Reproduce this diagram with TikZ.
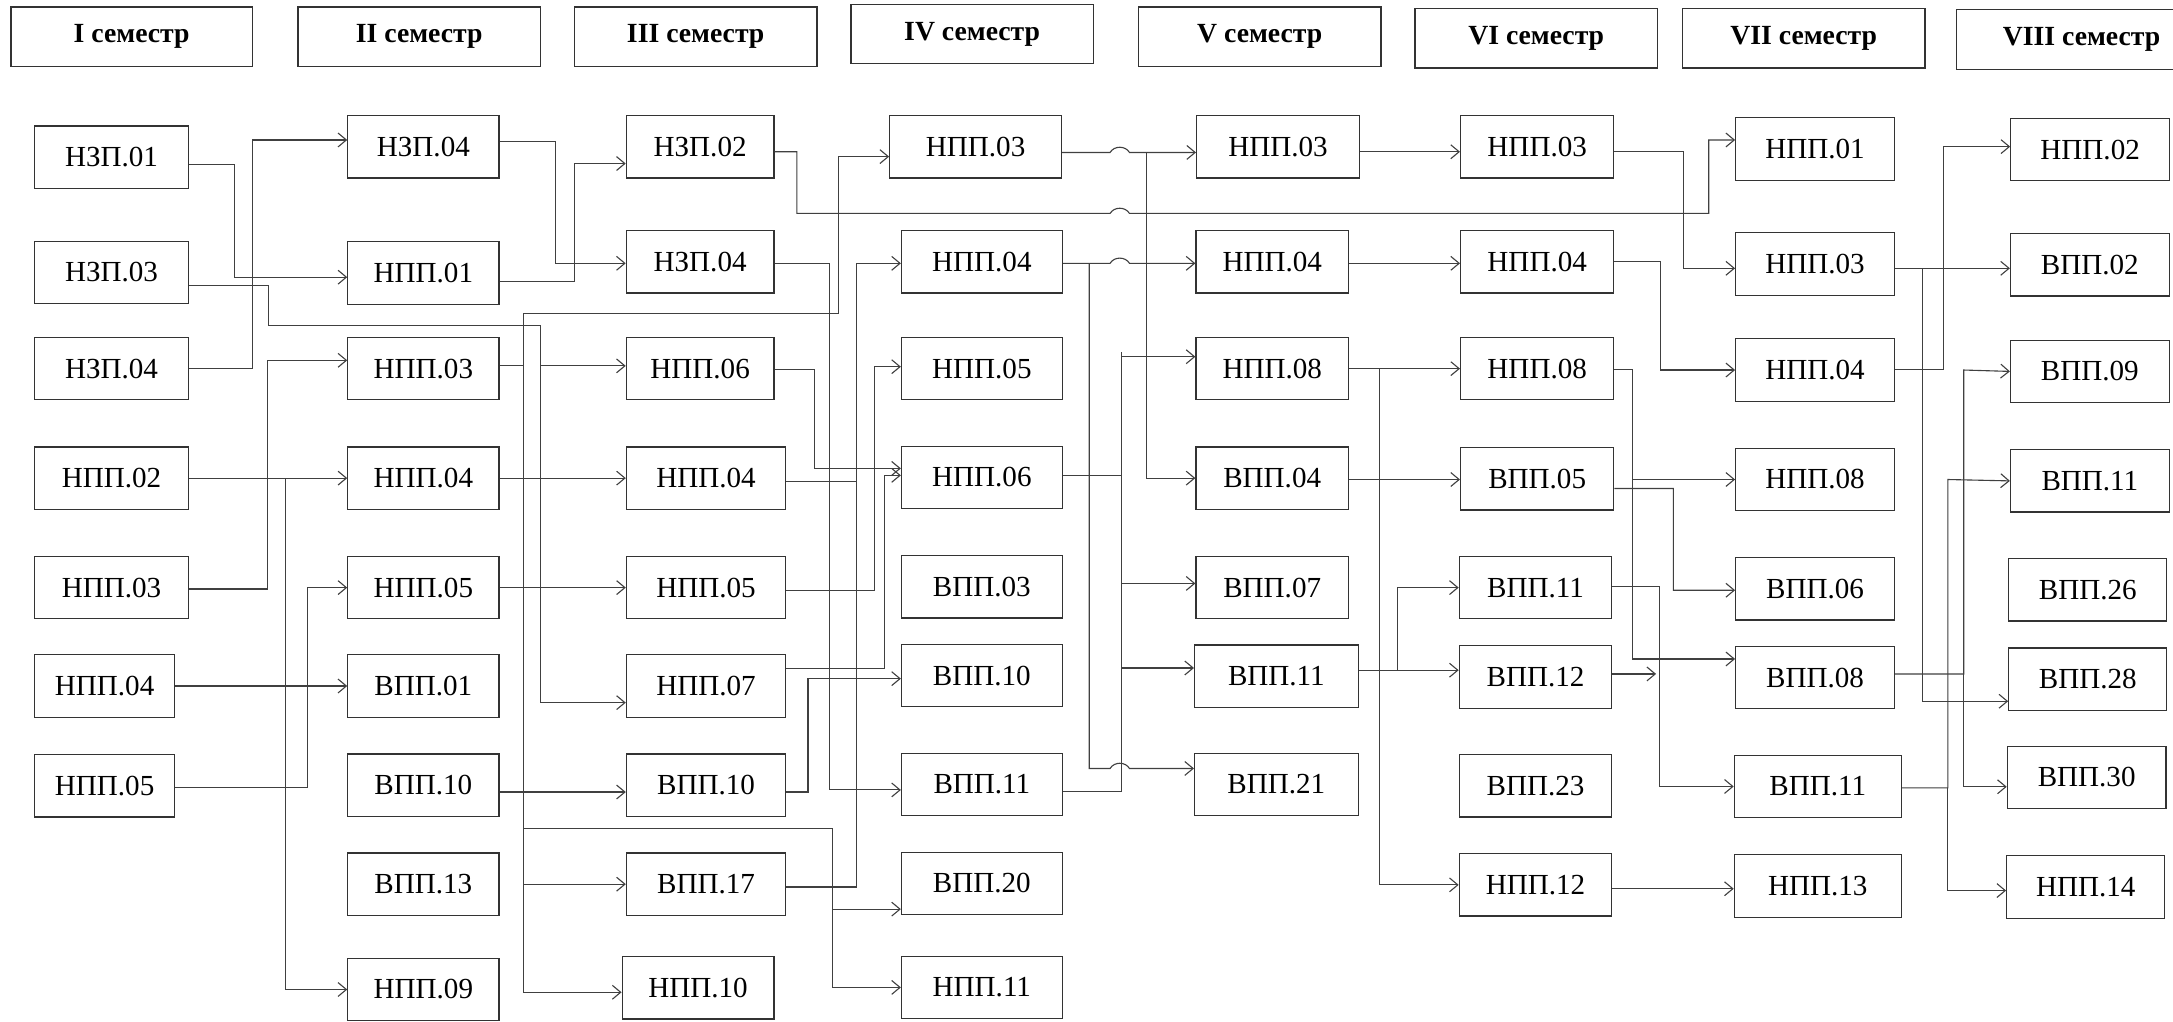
\documentclass[tikz,border=0pt]{standalone}
\usepackage{fontspec}
\setmainfont{Liberation Serif}
\usetikzlibrary{arrows.meta}
\begin{document}
\begin{tikzpicture}[x=1pt,y=-1pt,
  box/.style={draw=black!80, line width=0.9pt, minimum height=45pt, inner sep=0pt, font=\fontsize{21}{24}\selectfont},
  hdr/.style={draw=black!80, line width=0.9pt, minimum height=43pt, minimum width=175pt, inner sep=0pt, font=\bfseries\fontsize{20}{24}\selectfont},
  ln/.style={draw=black!75, line width=0.8pt},
  arr/.style={ln, -{Straight Barb[length=6pt,width=10pt]}},
  bump/.style args={#1/#2}{insert path={-- (#1-7,#2) .. controls (#1-4,#2-5) and (#1+4,#2-5) .. (#1+7,#2)}}
]
\useasboundingbox (0,0) rectangle (1568,737);
\fill[white] (0,0) rectangle (1568,737);

% headers
\node[hdr, minimum width=174pt] (H1) at (95,26.5) {I семестр};
\node[hdr] (H2) at (302.5,26.5) {II семестр};
\node[hdr] (H3) at (502,26.5) {III семестр};
\node[hdr] (H4) at (701.5,24.5) {IV семестр};
\node[hdr] (H5) at (909,26.5) {V семестр};
\node[hdr] (H6) at (1108.5,27.5) {VI семестр};
\node[hdr] (H7) at (1301.5,27.5) {VII семестр};
\node[hdr, minimum width=180pt] (H8) at (1502,28.5) {VIII семестр};

% column I
\node[box, minimum width=111pt] (a1) at (80.5,113.5) {НЗП.01};
\node[box, minimum width=111pt] (a2) at (80.5,196.5) {НЗП.03};
\node[box, minimum width=111pt] (a3) at (80.5,266) {НЗП.04};
\node[box, minimum width=111pt] (a4) at (80.5,345) {НПП.02};
\node[box, minimum width=111pt] (a5) at (80.5,424) {НПП.03};
\node[box, minimum width=101pt] (a6) at (75.5,495) {НПП.04};
\node[box, minimum width=101pt] (a7) at (75.5,567) {НПП.05};

% column II
\node[box, minimum width=109pt] (b1) at (305.5,106) {НЗП.04};
\node[box, minimum width=109pt] (b2) at (305.5,197) {НПП.01};
\node[box, minimum width=109pt] (b3) at (305.5,266) {НПП.03};
\node[box, minimum width=109pt] (b4) at (305.5,345) {НПП.04};
\node[box, minimum width=109pt] (b5) at (305.5,424) {НПП.05};
\node[box, minimum width=109pt] (b6) at (305.5,495) {ВПП.01};
\node[box, minimum width=109pt] (b7) at (305.5,566.5) {ВПП.10};
\node[box, minimum width=109pt] (b8) at (305.5,638) {ВПП.13};
\node[box, minimum width=109pt] (b9) at (305.5,714) {НПП.09};

% column III
\node[box, minimum width=106.5pt] (c1) at (505.2,106) {НЗП.02};
\node[box, minimum width=106.5pt] (c2) at (505.2,189) {НЗП.04};
\node[box, minimum width=106.5pt] (c3) at (505.2,266) {НПП.06};
\node[box, minimum width=115pt] (c4) at (509.5,345) {НПП.04};
\node[box, minimum width=115pt] (c5) at (509.5,424) {НПП.05};
\node[box, minimum width=115pt] (c6) at (509.5,495) {НПП.07};
\node[box, minimum width=115pt] (c7) at (509.5,566.5) {ВПП.10};
\node[box, minimum width=115pt] (c8) at (509.5,638) {ВПП.17};
\node[box, minimum width=109.5pt] (c9) at (503.7,712.7) {НПП.10};

% column IV
\node[box, minimum width=124pt] (d1) at (704,106) {НПП.03};
\node[box, minimum width=116pt] (d2) at (708.5,189) {НПП.04};
\node[box, minimum width=116pt] (d3) at (708.5,266) {НПП.05};
\node[box, minimum width=116pt] (d4) at (708.5,344.5) {НПП.06};
\node[box, minimum width=116pt] (d5) at (708.5,423.5) {ВПП.03};
\node[box, minimum width=116pt] (d6) at (708.5,487.5) {ВПП.10};
\node[box, minimum width=116pt] (d7) at (708.5,566) {ВПП.11};
\node[box, minimum width=116pt] (d8) at (708.5,637.5) {ВПП.20};
\node[box, minimum width=116pt] (d9) at (708.5,712.5) {НПП.11};

% column V
\node[box, minimum width=117.5pt] (e1) at (922.2,106) {НПП.03};
\node[box, minimum width=110pt] (e2) at (918,189) {НПП.04};
\node[box, minimum width=110pt] (e3) at (918,266) {НПП.08};
\node[box, minimum width=110pt] (e4) at (918,345) {ВПП.04};
\node[box, minimum width=110pt] (e5) at (918,424) {ВПП.07};
\node[box, minimum width=118pt] (e6) at (921,488) {ВПП.11};
\node[box, minimum width=118pt] (e7) at (921,566) {ВПП.21};

% column VI
\node[box, minimum width=110.5pt] (f1) at (1109.2,106) {НПП.03};
\node[box, minimum width=110.5pt] (f2) at (1109.2,189) {НПП.04};
\node[box, minimum width=110.5pt] (f3) at (1109.2,266) {НПП.08};
\node[box, minimum width=110.5pt] (f4) at (1109.2,345.5) {ВПП.05};
\node[box, minimum width=110pt] (f5) at (1108,424) {ВПП.11};
\node[box, minimum width=110pt] (f6) at (1108,488.5) {ВПП.12};
\node[box, minimum width=110pt] (f7) at (1108,567) {ВПП.23};
\node[box, minimum width=110pt] (f8) at (1108,638.5) {НПП.12};

% column VII
\node[box, minimum width=114.5pt] (g1) at (1309.7,107.5) {НПП.01};
\node[box, minimum width=114.5pt] (g2) at (1309.7,190.5) {НПП.03};
\node[box, minimum width=114.5pt] (g3) at (1309.7,267) {НПП.04};
\node[box, minimum width=114.5pt] (g4) at (1309.7,346) {НПП.08};
\node[box, minimum width=114.5pt] (g5) at (1309.7,424.8) {ВПП.06};
\node[box, minimum width=114.5pt] (g6) at (1309.7,489) {ВПП.08};
\node[box, minimum width=120.5pt] (g7) at (1311.7,567.5) {ВПП.11};
\node[box, minimum width=120.5pt] (g8) at (1311.7,639.3) {НПП.13};

% column VIII
\node[box, minimum width=114.5pt] (h1) at (1508.2,108) {НПП.02};
\node[box, minimum width=114.5pt] (h2) at (1508,191) {ВПП.02};
\node[box, minimum width=114.5pt] (h3) at (1508,268) {ВПП.09};
\node[box, minimum width=114.5pt] (h4) at (1508,347) {ВПП.11};
\node[box, minimum width=114pt] (h5) at (1506.5,425.6) {ВПП.26};
\node[box, minimum width=114pt] (h6) at (1506.5,490) {ВПП.28};
\node[box, minimum width=114.5pt] (h7) at (1505.7,561) {ВПП.30};
\node[box, minimum width=114pt] (h8) at (1505,640) {НПП.14};

% junction coordinates
\coordinate (j390) at (390,264);
\coordinate (j206) at (206,345);
\coordinate (j378a) at (378,598);
\coordinate (j378b) at (378,638);
\coordinate (j601) at (601,656);
\coordinate (j827) at (827.5,110);
\coordinate (j786) at (786,190);
\coordinate (h809a) at (809,257.4);
\coordinate (h809b) at (809,421);
\coordinate (h809c) at (809,482);
\coordinate (j995) at (995.4,266);
\coordinate (j1008) at (1008.7,483.6);
\coordinate (j1178) at (1177.7,346);
\coordinate (cf6) at (1195,486.3);
\coordinate (j1387) at (1387.5,193.6);
\coordinate (j1417) at (1417,486.3);
\coordinate (j1405) at (1405.5,568.5);

% I -> II
\draw[arr] ([yshift=-5.5]a1.east) -| (169,200) -- ([yshift=-3]b2.west);
\draw[arr] (a3.east) -| (182,101) -- ([yshift=5]b1.west);
\draw[arr] ([yshift=-9.5]a2.east) -| (194,235) -| (j390) -- ([yshift=2]c3.west);
\draw[arr] (j390) |- ([yshift=-12]c6.west);
\draw[arr] (a4.east) -- (b4.west);
\draw[arr] (j206) |- (b9.west);
\draw[arr] ([yshift=-1]a5.east) -| (193,260) -- ([yshift=6]b3.west);
\draw[arr] (a6.east) -- (b6.west);
\draw[arr] ([yshift=-1.5]a7.east) -| (222,424) -- (b5.west);

% II -> III / IV
\draw[arr] ([yshift=4]b1.east) -| (401,190) -- ([yshift=-1]c2.west);
\draw[arr] ([yshift=-6]b2.east) -| (414.5,118) -- ([yshift=-12]c1.west);
\draw[arr] ([yshift=2]b3.east) -| (378,226) -| (605,113) -- ([yshift=-7]d1.west);
\draw[arr] ([yshift=2]b3.east) -| (j378a) -| (601,712.5) -- (d9.west);
\draw[arr] (j601) -- ([yshift=-18.5]d8.west);
\draw[arr] (j378b) -- (c8.west);
\draw[arr] (j378a) |- ([yshift=-3.3]c9.west);
\draw[arr] (b4.east) -- (c4.west);
\draw[arr] (b5.east) -- (c5.west);
\draw[arr] ([yshift=-5]b7.east) -- ([yshift=-5]c7.west);

% III -> IV / VII
\draw[arr] ([yshift=-3.5]c1.east) -| (575,154) [bump=808/154] -| (1233,101) -- ([yshift=6.5]g1.west);
\draw[arr] ([yshift=-1]c2.east) -| (598.5,570) -- ([yshift=-4]d7.west);
\draw[arr] ([yshift=-0.5]c3.east) -| (587.5,338) -- ([yshift=6.5]d4.west);
\draw[ln] ([yshift=-2.6]c4.east) -- (618,347.6);
\draw[arr] ([yshift=-2]c8.east) -| (618,190) -- ([yshift=-1]d2.west);
\draw[arr] ([yshift=-2]c5.east) -| (631,264.6) -- ([yshift=1.4]d3.west);
\draw[arr] ([yshift=12.6]c6.east) -| (638,343) -- ([yshift=1.5]d4.west);
\draw[arr] ([yshift=-5]c7.east) -| (583,489.7) -- ([yshift=-2.2]d6.west);

% IV -> V
\draw[arr] ([yshift=-4]d1.east) [bump=808/110] -- ([yshift=-4]e1.west);
\draw[arr] (j827) |- (e4.west);
\draw[arr] ([yshift=-1]d2.east) [bump=808/190] -- ([yshift=-1]e2.west);
\draw[arr] (j786) -- (786,554.5) [bump=808/554.5] -- ([yshift=11.5]e7.west);
\draw[ln] ([yshift=1.7]d4.east) -- (809,342.8);
\draw[ln] ([yshift=-5.3]d7.east) -| (809,254);
\draw[arr] (h809a) -- ([yshift=8.6]e3.west);
\draw[arr] (h809b) -- ([yshift=3]e5.west);
\draw[arr] (h809c) -- ([yshift=6]e6.west);

% V -> VI
\draw[arr] ([yshift=-3.5]e1.east) -- ([yshift=-3.5]f1.west);
\draw[arr] ([yshift=-1]e2.east) -- ([yshift=-1]f2.west);
\draw[arr] (e3.east) -- (f3.west);
\draw[arr] (j995) |- (f8.west);
\draw[arr] ([yshift=-1]e4.east) -- ([yshift=-0.5]f4.west);
\draw[arr] ([yshift=4.4]e6.east) -| (1008.7,424) -- (f5.west);
\draw[arr] (j1008) -- ([yshift=4.9]f6.west);

% VI -> VII
\draw[arr] ([yshift=-3.4]f1.east) -| (1215,193.6) -- ([yshift=-3.1]g2.west);
\draw[arr] (f2.east) -| (1198,267) -- (g3.west);
\draw[arr] ([yshift=-0.5]f3.east) -| (j1178) -- (g4.west);
\draw[arr] (j1178) |- ([yshift=13.5]g6.west);
\draw[arr] ([yshift=-7]f4.east) -| (1207.5,425.9) -- ([yshift=-1.1]g5.west);
\draw[arr] ([yshift=0.8]f5.east) -| (1197.5,567.5) -- (g7.west);
\draw[arr] ([yshift=2.2]f6.east) -- (cf6);
\draw[arr] ([yshift=-2.8]f8.east) -- ([yshift=-2]g8.west);

% VII -> VIII
\draw[arr] ([yshift=-3.1]g2.east) -- ([yshift=-2.6]h2.west);
\draw[arr] (j1387) |- ([yshift=-16]h6.west);
\draw[arr] ([yshift=0.5]g3.east) -| (1402.4,105.8) -- ([yshift=2.2]h1.west);
\draw[arr] ([yshift=2.7]g6.east) -| (1417,267) -- (h3.west);
\draw[arr] (j1417) |- ([yshift=-6.7]h7.west);
\draw[arr] ([yshift=-1]g7.east) -| (1405.5,346) -- (h4.west);
\draw[arr] (j1405) |- ([yshift=-2.6]h8.west);
\end{tikzpicture}
\end{document}
